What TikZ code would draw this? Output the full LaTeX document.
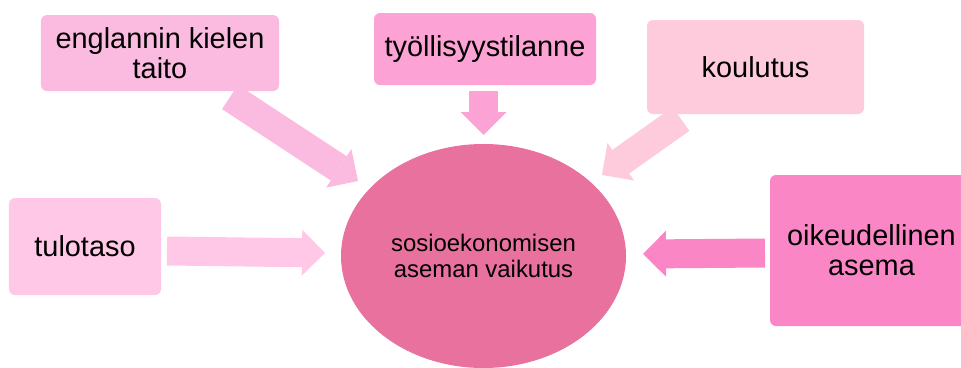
\documentclass[tikz,border=0pt]{standalone}
\usepackage{fontspec}
\setmainfont{Liberation Sans}
\usetikzlibrary{arrows.meta,shapes.geometric}
\definecolor{engpink}{RGB}{251,186,223}
\definecolor{tyopink}{RGB}{253,162,213}
\definecolor{koupink}{RGB}{253,203,219}
\definecolor{tulpink}{RGB}{254,200,230}
\definecolor{oikpink}{RGB}{251,134,198}
\definecolor{corepink}{RGB}{232,113,158}
\tikzset{
  factor/.style={rectangle, rounded corners=6bp, inner sep=2bp, align=center, font=\fontsize{29}{30}\selectfont},
  core/.style={ellipse, fill=corepink, inner sep=0pt, minimum width=285bp, minimum height=224bp, align=center, font=\fontsize{24}{25.5}\selectfont},
  blockarr/.style={line width=29bp, -{Triangle[width=46bp,length=23bp,line width=0pt]}} % wide pink arrows
}

\begin{document}
\begin{tikzpicture}[x=1bp, y=-1bp]
  \useasboundingbox (0,0) rectangle (961,367);

  % centre
  \node[core] (core) at (483.5,256) {sosioekonomisen\\aseman vaikutus};

  % factor boxes
  \node[factor, fill=engpink, minimum width=238bp, minimum height=76bp] (eng) at (160,53) {englannin kielen\\taito};
  \node[factor, fill=tyopink, minimum width=222bp, minimum height=72bp] (tyo) at (485,49) {työllisyystilanne};
  \node[factor, fill=koupink, minimum width=217bp, minimum height=94bp] (kou) at (755.5,67) {koulutus};
  \node[factor, fill=tulpink, minimum width=152bp, minimum height=97bp] (tul) at (85,246.5) {tulotaso};
  \node[factor, fill=oikpink, minimum width=203bp, minimum height=151bp] (oik) at (871.5,250.5) {oikeudellinen\\asema};

  % arrow ends
  \coordinate (engtail) at (230,97);
  \coordinate (engtip) at (358,181);
  \coordinate (tyotail) at (483.5,91);
  \coordinate (tyotip) at (483.5,135);
  \coordinate (koutail) at (681,119);
  \coordinate (koutip) at (602,175);
  \coordinate (tultail) at (167,251);
  \coordinate (tultip) at (325,253);
  \coordinate (oiktail) at (765,253);
  \coordinate (oiktip) at (643,254);

  % block arrows
  \draw[blockarr, draw=engpink] (engtail) -- (engtip);
  \draw[blockarr, draw=tyopink] (tyotail) -- (tyotip);
  \draw[blockarr, draw=koupink] (koutail) -- (koutip);
  \draw[blockarr, draw=tulpink] (tultail) -- (tultip);
  \draw[blockarr, draw=oikpink] (oiktail) -- (oiktip);
\end{tikzpicture}
\end{document}
